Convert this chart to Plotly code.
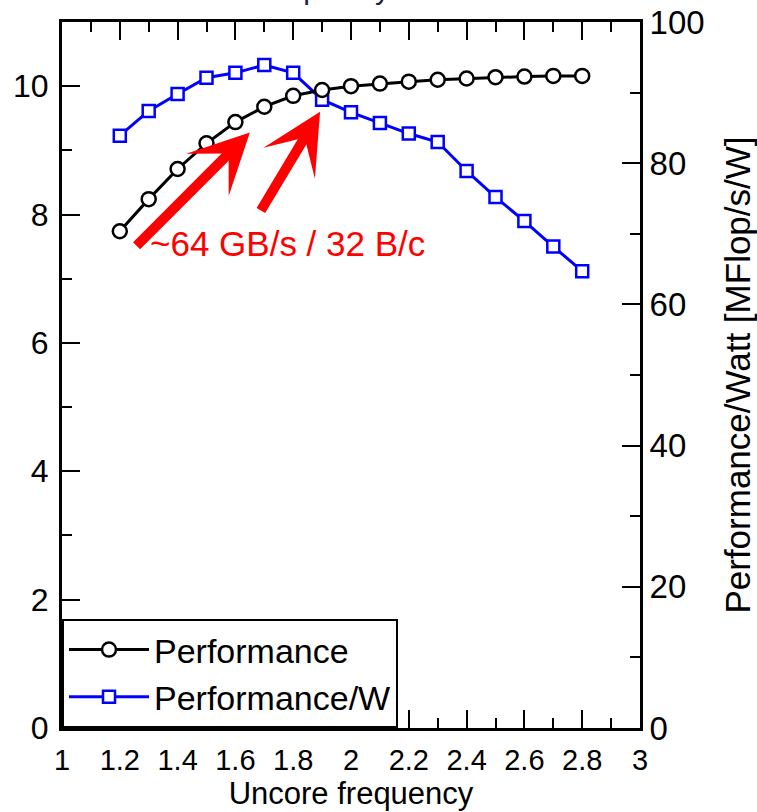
import plotly.graph_objects as go

# Uncore frequency sweep (GHz) at fixed core clock
uncore_ghz = [1.2, 1.3, 1.4, 1.5, 1.6, 1.7, 1.8, 1.9, 2.0,
              2.1, 2.2, 2.3, 2.4, 2.5, 2.6, 2.7, 2.8]

# Performance (left axis)
performance = [7.74, 8.24, 8.71, 9.11, 9.44, 9.68, 9.85, 9.94, 10.00,
               10.04, 10.07, 10.10, 10.12, 10.14, 10.15, 10.16, 10.16]

# Energy efficiency in MFlop/s/W (right axis)
perf_per_watt = [83.9, 87.4, 89.8, 92.1, 92.8, 93.9, 92.8, 89.0, 87.2,
                 85.7, 84.2, 83.0, 78.9, 75.2, 71.8, 68.2, 64.7]

# Axis ranges
x_range = [1, 3]
left_range = [0, 11]
right_range = [0, 100]

title_text = "Core frequency: 2.3 GHz"
note_text = "~64 GB/s / 32 B/c"

FONT = "Liberation Sans, Arial, Helvetica, sans-serif"

fig = go.Figure()

# Efficiency curve lives on the primary y axis (drawn on the right side)
fig.add_trace(go.Scatter(
    x=uncore_ghz, y=perf_per_watt, name="Performance/W",
    mode="lines+markers", yaxis="y", legendrank=2,
    line=dict(color="#0000ff", width=3),
    marker=dict(symbol="square", size=12, color="white",
                line=dict(color="#0000ff", width=2.5)),
))

# Performance curve on the overlaying axis (left side), drawn on top
fig.add_trace(go.Scatter(
    x=uncore_ghz, y=performance, name="Performance",
    mode="lines+markers", yaxis="y2", legendrank=1,
    line=dict(color="black", width=3),
    marker=dict(symbol="circle", size=14, color="white",
                line=dict(color="black", width=2.5)),
))

axis_common = dict(
    showgrid=False, zeroline=False, showline=True, linecolor="black",
    linewidth=3, ticks="inside", ticklen=18, tickwidth=2, tickcolor="black",
    automargin=False,
)

fig.update_layout(
    width=757, height=812,
    margin=dict(l=62, r=117, t=22, b=84),
    plot_bgcolor="white", paper_bgcolor="white",
    font=dict(family=FONT, size=30, color="black"),
    showlegend=True,
    legend=dict(
        x=0, y=0, xanchor="left", yanchor="bottom",
        bgcolor="white", bordercolor="black", borderwidth=2,
        font=dict(size=34, family=FONT, color="black"),
        itemwidth=80, tracegroupgap=0,
    ),
    xaxis=dict(
        range=x_range, tickmode="linear", tick0=1, dtick=0.2,
        mirror="ticks", ticklabelstandoff=4,
        tickfont=dict(size=29, color="black", family=FONT),
        minor=dict(dtick=0.1, ticklen=10, tickwidth=2, ticks="inside",
                   tickcolor="black"),
        title=dict(text="Uncore frequency", font=dict(size=31), standoff=6),
        **axis_common,
    ),
    yaxis=dict(
        range=right_range, side="right", tickmode="linear", tick0=0, dtick=20,
        tickfont=dict(size=33, color="black", family=FONT),
        minor=dict(dtick=10, ticklen=10, tickwidth=2, ticks="inside",
                   tickcolor="black"),
        title=dict(text="Performance/Watt [MFlop/s/W]", font=dict(size=35),
                   standoff=22),
        **axis_common,
    ),
    yaxis2=dict(
        range=left_range, side="left", overlaying="y", anchor="x",
        tickmode="linear", tick0=0, dtick=2, ticklabelstandoff=4,
        tickfont=dict(size=32, color="black", family=FONT),
        minor=dict(dtick=1, ticklen=10, tickwidth=2, ticks="inside",
                   tickcolor="black"),
        **axis_common,
    ),
)

annotations = [
    # Title, running off the top edge of the page
    dict(text=title_text, xref="paper", yref="paper", x=0.5, y=1.021,
         xanchor="center", yanchor="bottom", showarrow=False,
         font=dict(size=30, color="#1c2340", family=FONT)),
    # Bandwidth note and the two arrows pointing at the saturation point
    dict(text=note_text, xref="x", yref="y2", x=1.298, y=7.55,
         xanchor="left", yanchor="middle", showarrow=False,
         font=dict(size=35, color="#ff0000", family=FONT)),
    dict(text="", xref="x", yref="y2", axref="x", ayref="y2",
         x=1.650, y=9.28, ax=1.253, ay=7.49, showarrow=True,
         arrowhead=3, arrowsize=1.0, arrowwidth=10, arrowcolor="#ff0000",
         standoff=0, startstandoff=0),
    dict(text="", xref="x", yref="y2", axref="x", ayref="y2",
         x=1.893, y=9.60, ax=1.685, ay=8.04, showarrow=True,
         arrowhead=3, arrowsize=1.0, arrowwidth=10, arrowcolor="#ff0000",
         standoff=0, startstandoff=0),
]
fig.update_layout(annotations=annotations)

fig.write_html("out.html")
